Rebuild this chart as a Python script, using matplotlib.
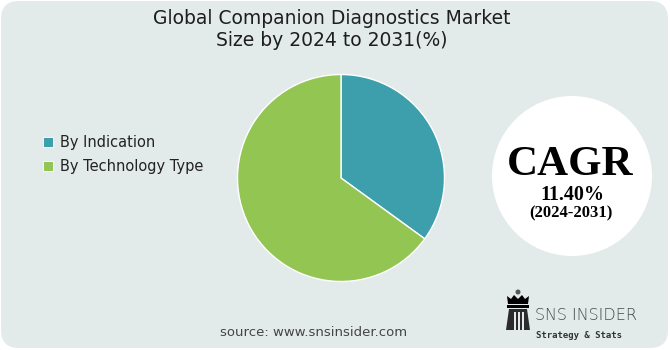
import matplotlib.pyplot as plt
from matplotlib.patches import FancyBboxPatch, Circle, Rectangle, Polygon

# data
segments = ["By Indication", "By Technology Type"]
shares = [35, 65]
colors = ["#3c9fab", "#92c552"]

title = "Global Companion Diagnostics Market\nSize by 2024 to 2031(%)"
cagr_value = "11.40%"
cagr_period = "(2024-2031)"

fig = plt.figure(figsize=(6.7, 3.5), dpi=100)
fig.patch.set_facecolor("white")

# overlay axes in pixel coordinates for the decorations
bg = fig.add_axes([0, 0, 1, 1])
bg.set_xlim(0, 670)
bg.set_ylim(350, 0)
bg.axis("off")

bg.add_patch(FancyBboxPatch((1, 1), 667, 347, boxstyle="round,pad=0,rounding_size=18",
                            fc="#e3ebea", ec="none"))

bg.text(332, 30, title, ha="center", va="center", fontsize=13.5, color="#1e1e1e",
        linespacing=1.2, family="DejaVu Sans")

# legend
for i, (lab, col) in enumerate(zip(segments, colors)):
    y = 142 + i * 24
    bg.add_patch(Rectangle((43, y - 5), 10, 10, fc=col, ec="white", lw=0.6))
    bg.text(60, y, lab, ha="left", va="center", fontsize=10.5, color="#222222")

# CAGR bubble
bg.add_patch(Circle((572, 176), 80, fc="white", ec="none"))
bg.text(570, 175, "CAGR", ha="center", va="baseline", fontsize=31, fontweight="bold",
        family="Liberation Serif", color="black")
bg.text(572, 200, cagr_value, ha="center", va="baseline", fontsize=14.5, fontweight="bold",
        family="Liberation Serif", color="black")
bg.text(571, 217, cagr_period, ha="center", va="baseline", fontsize=12, fontweight="bold",
        family="Liberation Serif", color="black")

# source
bg.text(314, 332, "source: www.snsinsider.com", ha="center", va="center", fontsize=9.5,
        color="#444444")

# logo
bg.add_patch(Circle((518, 292), 2.5, fc="#555555", ec="none"))
bg.add_patch(Polygon([(507, 296), (511, 299), (514, 295), (518, 299), (522, 295),
                      (525, 299), (529, 296), (528, 304), (508, 304)],
                     closed=True, fc="black", ec="none"))
bg.add_patch(Rectangle((507, 305), 22, 3, fc="black", ec="none"))
bg.add_patch(Polygon([(509, 309), (527, 309), (530, 330), (506, 330)],
                     closed=True, fc="#2b2b2b", ec="none"))
for sx in (514, 518, 522):
    bg.add_patch(Rectangle((sx, 312), 1.5, 18, fc="#e3ebea", ec="none"))
bg.text(535, 316, "SNS INSIDER", ha="left", va="center", fontsize=11.5,
        color="#4a4a4a", fontweight="light")
bg.text(536, 336, "Strategy & Stats", ha="left", va="center", fontsize=6.5,
        family="DejaVu Sans Mono", fontweight="bold", color="#333333")

# pie
cx, cy, r = 341, 178, 104
ax = fig.add_axes([(cx - r) / 670, (350 - cy - r) / 350, 2 * r / 670, 2 * r / 350])
ax.pie(shares, colors=colors, startangle=90, counterclock=False,
       wedgeprops=dict(edgecolor="white", linewidth=1))
ax.set_xlim(-1.005, 1.005)
ax.set_ylim(-1.005, 1.005)
ax.set_aspect("equal")
ax.axis("off")

fig.savefig("out.png", dpi=100, facecolor=fig.get_facecolor())
